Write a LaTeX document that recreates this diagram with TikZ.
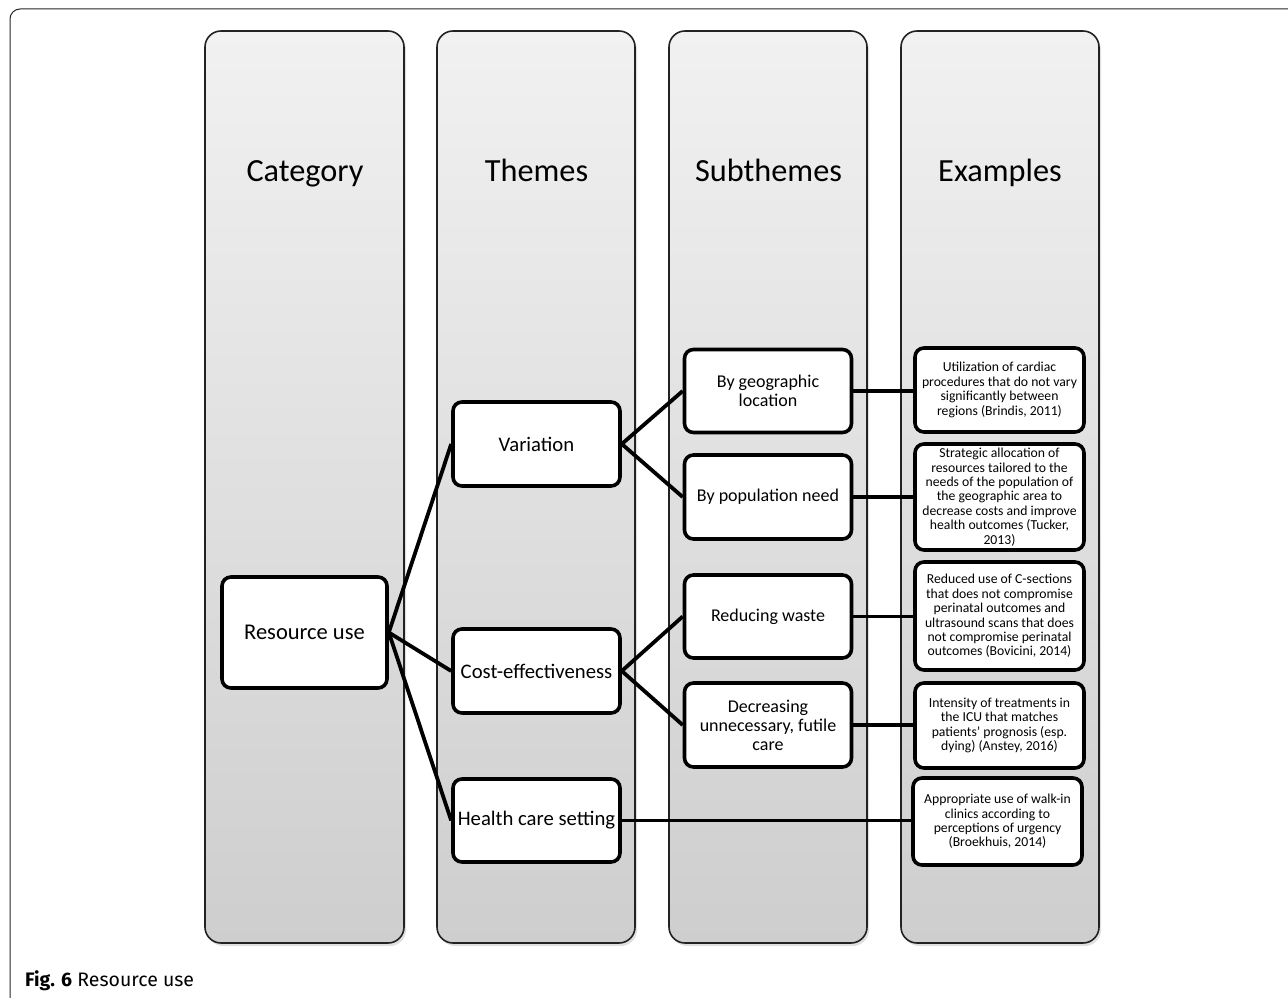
\documentclass[tikz,border=0pt]{standalone}
\usepackage{fontspec}
\setmainfont{Carlito}
\newfontfamily\capfont{Fira Sans}
\usetikzlibrary{shadows}
\definecolor{coltop}{HTML}{F1F1F1}
\definecolor{colbot}{HTML}{CECECE}
\definecolor{frame}{HTML}{222222}
\begin{document}
\begin{tikzpicture}[x=1pt,y=-1pt,
  column/.style={draw=frame, line width=1.6pt, rounded corners=16pt, top color=coltop, bottom color=colbot,
    drop shadow={shadow xshift=2pt, shadow yshift=-3pt, opacity=0.2, fill=black!60}},
  head/.style={anchor=base, font=\fontsize{32.3}{36}\selectfont},
  box/.style={draw=black, line width=3.6pt, rounded corners=9pt, fill=white, align=center, inner sep=2pt,
    font=\fontsize{18}{19}\selectfont},
  theme/.style={box, font=\fontsize{20.7}{22}\selectfont},
  ex/.style={draw=black, line width=3.6pt, rounded corners=9pt, fill=white, align=center, inner sep=1pt,
    minimum width=169pt, font=\fontsize{13.7}{14.4}\selectfont},
  link/.style={line width=3.8pt, black}]
\useasboundingbox (0,0) rectangle (1288,998);
% outer frame
\draw[line width=1pt, black!85, rounded corners=10pt] (1300,9) -- (10,9) -- (10,1010);
% columns
\path[column] (205,31) rectangle (404,943);
\path[column] (437,31) rectangle (635,943);
\path[column] (669,31) rectangle (867,943);
\path[column] (901,31) rectangle (1099,943);
% headers
\node[head] (hcat) at (305,181) {Category};
\node[head] (hthe) at (536.5,181) {Themes};
\node[head] (hsub) at (768.5,181) {Subthemes};
\node[head] (hex) at (1000,181) {Examples};
% connectors
\coordinate (hub) at (388,632.5);
% boxes
\node[box, font=\fontsize{22.5}{24}\selectfont, minimum width=165pt, minimum height=111pt] (res) at (304.5,632.5) {Resource use};
\node[theme, minimum width=167pt, minimum height=84pt] (var) at (536.5,444) {Variation};
\node[theme, minimum width=167pt, minimum height=84pt] (cost) at (536.5,671) {Cost-effectiveness};
\node[theme, minimum width=167pt, minimum height=83pt] (hcs) at (536.5,820.5) {Health care setting};
\node[box, minimum width=167pt, minimum height=83pt] (geo) at (768,391) {By geographic\\location};
\node[box, minimum width=167pt, minimum height=84pt] (pop) at (768,497) {By population need};
\node[box, minimum width=167pt, minimum height=83pt] (waste) at (768,616.5) {Reducing waste};
\node[box, minimum width=167pt, minimum height=84pt] (futile) at (768,725) {Decreasing\\unnecessary, futile\\care};
% examples
\node[ex, minimum height=84pt] (e1) at (999.5,390) {Utilization of cardiac\\procedures that do not vary\\significantly between\\regions (Brindis, 2011)};
\node[ex, minimum height=106pt] (e2) at (999.5,497) {Strategic allocation of\\resources tailored to the\\needs of the population of\\the geographic area to\\decrease costs and improve\\health outcomes (Tucker,\\2013)};
\node[ex, minimum height=108pt] (e3) at (999.5,616) {Reduced use of C-sections\\that does not compromise\\perinatal outcomes and\\ultrasound scans that does\\not compromise perinatal\\outcomes (Bovicini, 2014)};
\node[ex, minimum height=85pt] (e4) at (999.5,725.5) {Intensity of treatments in\\the ICU that matches\\patients' prognosis (esp.\\dying) (Anstey, 2016)};
\node[ex, minimum height=87pt] (e5) at (997.5,821.5) {Appropriate use of walk-in\\clinics according to\\perceptions of urgency\\(Broekhuis, 2014)};
\begin{scope}[on background layer/.style={}]
\end{scope}
\draw[link] (res.east) -- (var.west);
\draw[link] (res.east) -- (cost.west);
\draw[link] (res.east) -- (hcs.west);
\draw[link] (var.east) -- (geo.west);
\draw[link] (var.east) -- (pop.west);
\draw[link] (cost.east) -- (waste.west);
\draw[link] (cost.east) -- (futile.west);
\draw[link] (geo.east) -- (geo.east -| e1.west);
\draw[link] (pop.east) -- (pop.east -| e2.west);
\draw[link] (waste.east) -- (waste.east -| e3.west);
\draw[link] (futile.east) -- (futile.east -| e4.west);
\draw[link] (hcs.east) -- (hcs.east -| e5.west);
% caption
\node[anchor=base west, inner sep=0pt, font=\capfont\fontsize{19.5}{22}\selectfont] (cap) at (25,986) {\textbf{Fig. 6} Resource use};
\end{tikzpicture}
\end{document}
